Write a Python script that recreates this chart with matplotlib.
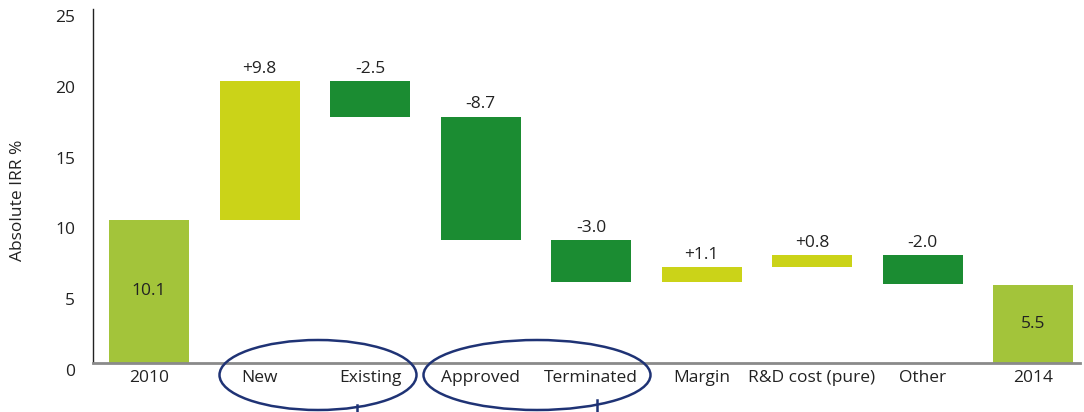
import matplotlib.pyplot as plt
import matplotlib.transforms as mtrans
from matplotlib.patches import Ellipse
from matplotlib.lines import Line2D
import numpy as np

plt.rcParams['font.family'] = ['Open Sans', 'DejaVu Sans']

# data
categories = ['2010', 'New', 'Existing', 'Approved', 'Terminated',
              'Margin', 'R&D cost (pure)', 'Other', '2014']
start_val = 10.1
deltas = [9.8, -2.5, -8.7, -3.0, 1.1, 0.8, -2.0]
end_val = 5.5

c_total = '#a3c43a'
c_pos = '#cbd318'
c_neg = '#1b8c32'
txt = '#222222'
fs = 12.5

fig = plt.figure(figsize=(10.84, 4.12), dpi=100)
ax = fig.add_axes([93/1084, 1 - 363/412, (1080-93)/1084, (363-9)/412])

x = np.arange(len(categories))
w = 0.724

# start bar
ax.bar(x[0], start_val, width=w, color=c_total)
ax.text(x[0], start_val/2, '%.1f' % start_val, ha='center', va='center',
        fontsize=fs, color=txt)

level = start_val
for i, d in enumerate(deltas):
    xi = x[i+1]
    bottom = level if d > 0 else level + d
    ax.bar(xi, abs(d), bottom=bottom, width=w, color=c_pos if d > 0 else c_neg)
    top = bottom + abs(d)
    ax.annotate(('+%.1f' % d) if d > 0 else ('%.1f' % d), (xi, top),
                xytext=(0, 3), textcoords='offset points',
                ha='center', va='bottom', fontsize=fs, color=txt)
    level += d

ax.bar(x[-1], end_val, width=w, color=c_total)
ax.text(x[-1], end_val/2, '%.1f' % end_val, ha='center', va='center',
        fontsize=fs, color=txt)

ax.set_xlim(-0.507, 8.425)
ax.set_ylim(0, 25)
ax.set_yticks([0, 5, 10, 15, 20, 25])
ax.set_xticks(x)
ax.set_xticklabels(categories)
ax.tick_params(axis='both', length=0, labelsize=fs, colors=txt)
ax.tick_params(axis='y', pad=13)
ax.tick_params(axis='x', pad=5)
# y labels sit a little low in the original
off = mtrans.ScaledTranslation(0, -7/100, fig.dpi_scale_trans)
for lab in ax.get_yticklabels():
    lab.set_transform(lab.get_transform() + off)

ax.set_ylabel('Absolute IRR %', fontsize=12.5, color=txt)
ax.yaxis.set_label_coords(-0.068, 0.46)

for s in ['top', 'right']:
    ax.spines[s].set_visible(False)
ax.spines['left'].set_color('#222222')
ax.spines['left'].set_linewidth(1)
ax.spines['bottom'].set_color('#8a8a8a')
ax.spines['bottom'].set_linewidth(2)

# grouping ellipses under the axis
navy = '#1f3375'
for cx, ew in [(318, 197), (537, 227)]:
    e = Ellipse((cx/1084, 1 - 375/412), ew/1084, 70/412, transform=fig.transFigure,
                fill=False, edgecolor=navy, linewidth=1.8, clip_on=False)
    fig.patches.append(e)
for lx, ly in [(357, 405), (597, 400)]:
    fig.lines.append(Line2D([lx/1084, lx/1084], [1 - ly/412, 0],
                            transform=fig.transFigure, color=navy, linewidth=1.8))

fig.savefig('out.png', dpi=100)
